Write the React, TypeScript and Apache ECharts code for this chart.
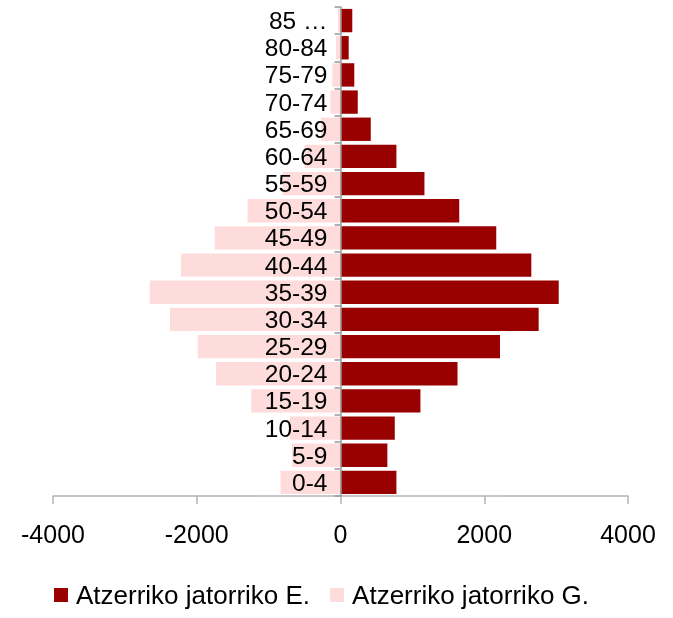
import React, { useEffect, useRef } from "react";
import * as echarts from "echarts";

const categories = ["0-4", "5-9", "10-14", "15-19", "20-24", "25-29", "30-34", "35-39", "40-44", "45-49", "50-54", "55-59", "60-64", "65-69", "70-74", "75-79", "80-84", "85 …"];
const maleValues = [778, 652, 755, 1112, 1628, 2219, 2757, 3036, 2655, 2167, 1652, 1168, 778, 421, 240, 192, 114, 164];
const femaleValues = [-834, -676, -704, -1243, -1731, -1986, -2372, -2655, -2219, -1749, -1294, -806, -499, -272, -142, -114, -63, -35];
const labelAnchors = [0, 0, 0, 0, 0, 0, 0, 0, 0, 0, 0, 0, 0, 0, 0, 0, 0, 0];
const seriesNames = ["Atzerriko jatorriko E.", "Atzerriko jatorriko G."];
const xTicks = [-4000, -2000, 0, 2000, 4000];

const FONT = "'Liberation Sans', Arial, sans-serif";

export default function App() {
  const ref = useRef<HTMLDivElement>(null);
  useEffect(() => {
    if (!ref.current) return;
    const chart = echarts.init(ref.current, null, { renderer: "svg" });
    chart.setOption({
      animation: false,
      textStyle: { fontFamily: FONT, color: "#000" },
      grid: { left: 53, right: 45, top: 7, bottom: 122, containLabel: false, outerBoundsMode: "none" },
      legend: {
        bottom: 5,
        left: 49,
        itemWidth: 14,
        itemHeight: 14,
        itemGap: 20,
        icon: "rect",
        textStyle: { fontSize: 26, color: "#000", fontFamily: FONT, padding: [0, 0, 0, 3] },
        data: seriesNames,
      },
      xAxis: {
        type: "value",
        min: xTicks[0],
        max: xTicks[xTicks.length - 1],
        interval: 2000,
        splitLine: { show: false },
        axisLine: { show: true, lineStyle: { color: "#b3b3b3", width: 1.5 } },
        axisTick: { show: true, length: 8, lineStyle: { color: "#b3b3b3", width: 1.5 } },
        axisLabel: { fontSize: 25, color: "#000", margin: 25, fontFamily: FONT, formatter: (v: number) => String(v) },
      },
      yAxis: {
        type: "category",
        data: categories,
        z: 10,
        axisLine: { show: true, onZero: true, lineStyle: { color: "#999", width: 1.5 } },
        axisTick: { show: true, length: 6, alignWithLabel: false, lineStyle: { color: "#999", width: 1.5 } },
        axisLabel: { show: false },
        splitLine: { show: false },
      },
      series: [
        {
          name: seriesNames[0],
          type: "bar",
          data: maleValues,
          barGap: "-100%",
          barCategoryGap: "14%",
          itemStyle: { color: "#990000" },
        },
        {
          name: seriesNames[1],
          type: "bar",
          data: femaleValues,
          barGap: "-100%",
          barCategoryGap: "14%",
          itemStyle: { color: "#FFDCDC" },
        },
        {
          name: "labels",
          type: "bar",
          data: labelAnchors,
          barGap: "-100%",
          barCategoryGap: "14%",
          silent: true,
          z: 5,
          itemStyle: { color: "rgba(0,0,0,0)" },
          label: {
            show: true,
            position: "left",
            distance: 13,
            formatter: (p: any) => p.name,
            fontSize: 24.5,
            color: "#000",
            fontFamily: FONT,
          },
        },
      ],
    });
    return () => chart.dispose();
  }, []);
  return (
    <div
      ref={ref}
      style={{ position: "fixed", left: 0, top: 0, width: 673, height: 618 }}
    />
  );
}
